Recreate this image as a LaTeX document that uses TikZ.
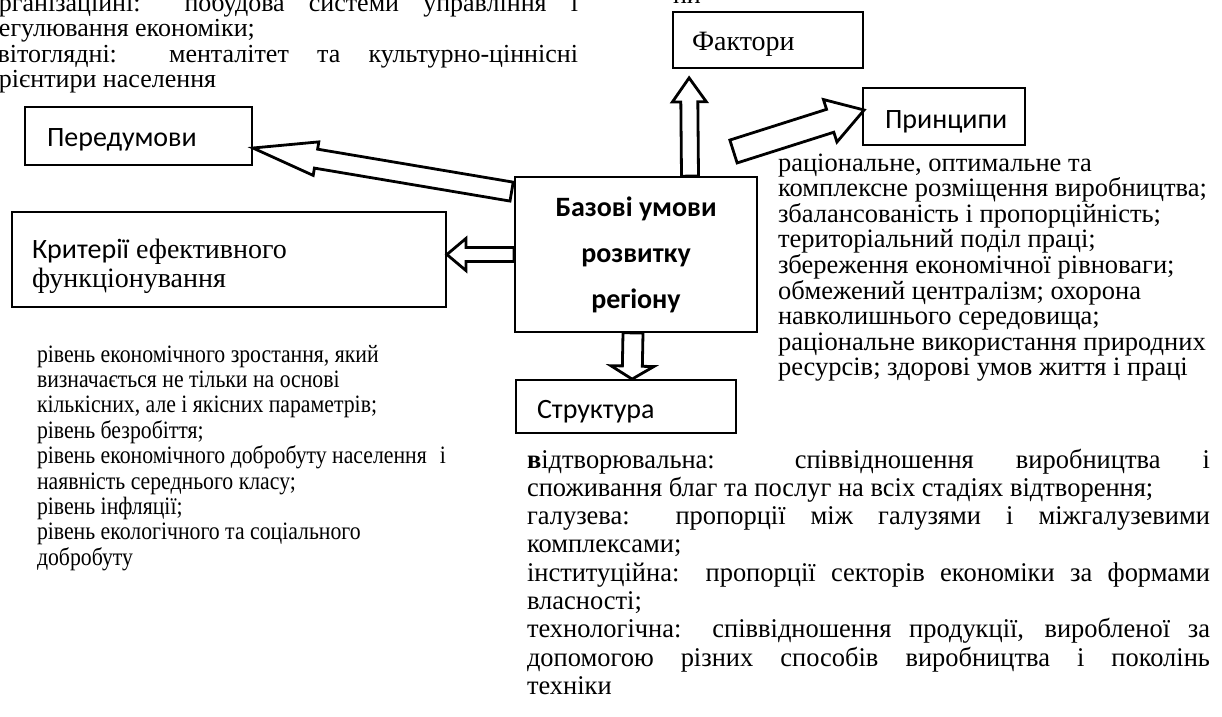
\documentclass[tikz,border=0pt]{standalone}
\usepackage{fontspec}
\setmainfont{Liberation Serif}
\newfontfamily\tnrfont{Liberation Serif}
\newfontfamily\calfont{Carlito}
\newfontfamily\lcolfont[FakeStretch=0.87]{Liberation Serif}
\newfontfamily\bcolfont[FakeStretch=0.98]{Liberation Serif}
\usetikzlibrary{calc}

\newcommand{\blockarr}[5]{%
  \path (#1) coordinate (ba-s) (#2) coordinate (ba-t);
  \path ($(ba-t)!#5!(ba-s)$) coordinate (ba-h);
  \draw[blockarrow] ($(ba-s)!#3!90:(ba-t)$) -- ($(ba-h)!#3!-90:(ba-s)$) -- ($(ba-h)!#4!-90:(ba-s)$) -- (ba-t) -- ($(ba-h)!#4!90:(ba-s)$) -- ($(ba-h)!#3!90:(ba-s)$) -- ($(ba-s)!#3!-90:(ba-t)$) -- cycle;
}

\tikzset{
  box/.style={draw=black, line width=1.8pt, rectangle, inner sep=0pt},
  blockarrow/.style={draw=black, line width=2.8pt, fill=white, line join=miter, miter limit=10},
  txt/.style={anchor=base west, inner sep=0pt, outer sep=0pt},
  caltxt/.style={txt, font=\calfont\fontsize{28}{28}\selectfont},
  tnrtxt/.style={txt, font=\tnrfont\fontsize{28}{28}\selectfont},
  basetxt/.style={anchor=base, inner sep=0pt, font=\calfont\bfseries\fontsize{28}{28}\selectfont},
  rcol/.style={txt, font=\tnrfont\fontsize{26.5}{26.5}\selectfont},
  lcol/.style={txt, font=\lcolfont\fontsize{25}{25}\selectfont},
  bcol/.style={txt, font=\bcolfont\fontsize{27}{27}\selectfont},
  tcol/.style={txt, font=\tnrfont\fontsize{26}{26}\selectfont},
}

\begin{document}
\begin{tikzpicture}[x=1pt,y=-1pt]
\path[use as bounding box] (0,0) rectangle (1222,716);
\clip (0,0) rectangle (1222,716);
\fill[white] (0,0) rectangle (1222,716);

% boxes
\node[box, minimum width=227pt, minimum height=58pt] (per) at (138.5,136) {};
\node[box, minimum width=190pt, minimum height=56pt] (fak) at (768,40) {};
\node[box, minimum width=162pt, minimum height=57pt] (prin) at (944,116.5) {};
\node[box, minimum width=242pt, minimum height=155pt] (base) at (636,254.5) {};
\node[box, minimum width=434pt, minimum height=95pt] (krit) at (229,259.5) {};
\node[box, minimum width=220pt, minimum height=53pt] (str) at (626,406.5) {};

% box labels
\node[caltxt] (perT) at (47,146) {Передумови};
\node[tnrtxt] (fakT) at (692,50) {Фактори};
\node[caltxt] (prinT) at (885,128) {Принципи};
\node[tnrtxt] (kritT1) at (32,258) {{\calfont Критерії} ефективного};
\node[tnrtxt] (kritT2) at (32,287) {функціонування};
\node[basetxt] (baseT1) at (636,216) {Базові умови};
\node[basetxt] (baseT2) at (636,262) {розвитку};
\node[basetxt] (baseT3) at (636,308) {регіону};
\node[caltxt] (strT) at (537,418) {Структура};

% block arrows
\coordinate (prinS) at (733.5,151.5);
\blockarr{$(base.north)+(54,0)$}{$(fak.south west)+(17,9)$}{8.5pt}{17pt}{24pt}
\blockarr{$(base.south)+(-3,0)$}{$(str.north west)+(117,0)$}{10pt}{21.5pt}{13pt}
\blockarr{base.west}{krit.east |- base.west}{7pt}{16pt}{19pt}
\blockarr{$(base.north west)+(-2.5,15.5)$}{$(per.east)+(0,12)$}{9.6pt}{17pt}{64pt}
\blockarr{prinS}{$(prin.west)+(2,-6.5)$}{12pt}{22.3pt}{35.6pt}

% top-left (clipped) text
\node[tcol] (tl0) at (-14,11) {\makebox[592pt][s]{організаційні: побудова системи управління і}};
\node[tcol] (tl1) at (-14,36.6) {регулювання економіки;};
\node[tcol] (tl2) at (-14,62.2) {\makebox[592pt][s]{світоглядні: менталітет та культурно-ціннісні}};
\node[tcol] (tl3) at (-14,87.8) {орієнтири населення};
\node[tcol] (top) at (673,3) {ни};

% right column
\node[rcol] (r0) at (778,171) {раціональне, оптимальне та};
\node[rcol] (r1) at (778,196.6) {комплексне розміщення виробництва;};
\node[rcol] (r2) at (778,222.2) {збалансованість і пропорційність;};
\node[rcol] (r3) at (778,247.8) {територіальний поділ праці;};
\node[rcol] (r4) at (778,273.4) {збереження економічної рівноваги;};
\node[rcol] (r5) at (778,299) {обмежений централізм; охорона};
\node[rcol] (r6) at (778,324.6) {навколишнього середовища;};
\node[rcol] (r7) at (778,350.2) {раціональне використання природних};
\node[rcol] (r8) at (778,375.8) {ресурсів; здорові умов життя і праці};

% left column
\node[lcol] (l0) at (37,362) {рівень економічного зростання, який};
\node[lcol] (l1) at (37,387.4) {визначається не тільки на основі};
\node[lcol] (l2) at (37,412.8) {кількісних, але і якісних параметрів;};
\node[lcol] (l3) at (37,438.2) {рівень безробіття;};
\node[lcol] (l4) at (37,463.6) {\makebox[409pt][l]{рівень економічного добробуту населення\hfill і}};
\node[lcol] (l5) at (37,489) {наявність середнього класу;};
\node[lcol] (l6) at (37,514.4) {рівень інфляції;};
\node[lcol] (l7) at (37,539.8) {рівень екологічного та соціального};
\node[lcol] (l8) at (37,565.2) {добробуту};

% bottom column
\node[bcol] (b0) at (527,468) {\makebox[683pt][s]{\textbf{в}ідтворювальна: співвідношення виробництва і}};
\node[bcol] (b1) at (527,496.3) {споживання благ та послуг на всіх стадіях відтворення;};
\node[bcol] (b2) at (527,524.6) {\makebox[683pt][s]{галузева: пропорції між галузями і міжгалузевими}};
\node[bcol] (b3) at (527,552.9) {комплексами;};
\node[bcol] (b4) at (527,581.2) {\makebox[683pt][s]{інституційна: пропорції секторів економіки за формами}};
\node[bcol] (b5) at (527,609.5) {власності;};
\node[bcol] (b6) at (527,637.8) {\makebox[683pt][s]{технологічна: співвідношення продукції, виробленої за}};
\node[bcol] (b7) at (527,666.1) {\makebox[683pt][s]{допомогою різних способів виробництва і поколінь}};
\node[bcol] (b8) at (527,694.4) {техніки};
\end{tikzpicture}
\end{document}
